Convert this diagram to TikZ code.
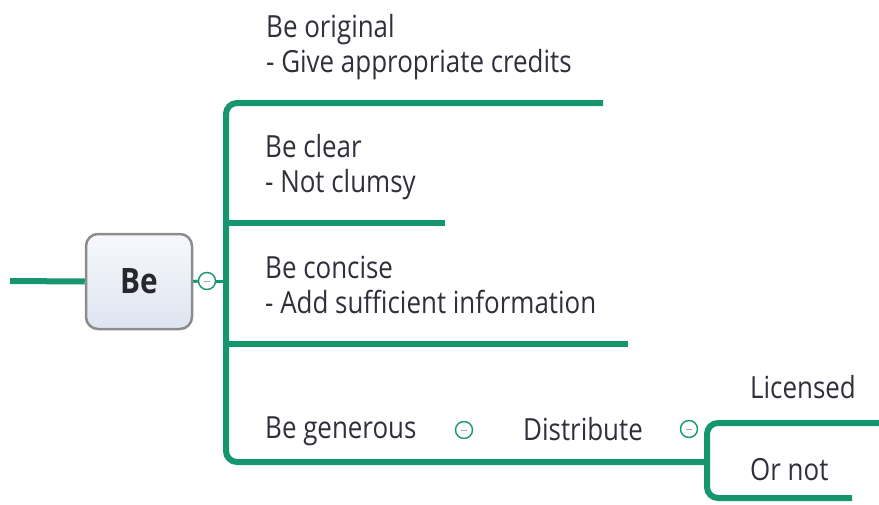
\documentclass[tikz,border=0pt]{standalone}
\usepackage{fontspec}
\setmainfont[FakeStretch=0.85]{Open Sans}
\definecolor{branch}{RGB}{22,150,110}
\definecolor{ink}{RGB}{48,48,58}
\definecolor{boxrim}{RGB}{140,140,140}
\definecolor{boxtop}{RGB}{246,248,252}
\definecolor{boxbot}{RGB}{222,229,240}
\begin{document}
\begin{tikzpicture}[x=1pt,y=-1pt,
  topic/.style={anchor=base west, inner sep=0pt, align=left, text=ink,
    font=\fontsize{30.5}{34.5}\selectfont},
  rootbox/.style={rounded corners=12pt, draw=boxrim, line width=2.5pt,
    top color=boxtop, bottom color=boxbot, minimum width=106pt,
    minimum height=95pt, text=ink!80!black, font=\fontsize{35}{38}\bfseries},
  branchline/.style={draw=branch, line width=6pt},
  toggle/.style={circle, draw=branch, line width=1.4pt, fill=white,
    minimum size=17pt, inner sep=0pt,
    path picture={\draw[gray!70, line width=1pt]
      ([xshift=-3pt]path picture bounding box.center) --
      ([xshift=3pt]path picture bounding box.center);}}
]
\useasboundingbox (0,0) rectangle (879,504);

% central topic and its incoming line
\coordinate (in) at (10,281);
\node[rootbox] (be) at (139,281.5) {Be};
\draw[branchline] (in) -- (be.west);
\node[toggle] (tbe) at (207,281) {};
\coordinate (trunk) at (226,281);
\draw[branchline, line width=3pt] (be.east) -- (tbe.west);
\draw[branchline, line width=3pt] (tbe.east) -- (trunk);

% subtopics (a two-line node sits on the baseline of its last line)
\node[topic] (orig) at (266,72) {Be original\\- Give appropriate credits};
\node[topic] (clear) at (265,192) {Be clear\\- Not clumsy};
\node[topic] (conc) at (265,313) {Be concise\\- Add sufficient information};
\node[topic] (gen) at (265,438) {Be generous};
\node[toggle] (tgen) at (464,430) {};
\node[topic] (dist) at (523,440) {Distribute};
\node[toggle] (tdist) at (689,429) {};
\node[topic] (lic) at (750,398) {Licensed};
\node[topic] (ornot) at (750,480) {Or not};

% underline ends
\coordinate (origR) at (603,103);
\coordinate (clearL) at (226,223);
\coordinate (clearR) at (445,223);
\coordinate (concL) at (226,344);
\coordinate (concR) at (628,344);
\coordinate (distR) at (707,462);
\coordinate (licR) at (879,423);
\coordinate (ornotR) at (852,498);

% trunk with the first and last branch
\draw[branchline, rounded corners=11pt]
  (origR) -- (orig.west |- origR) -- ++(-40,0) |- (distR);
\draw[branchline] (clearL) -- (clearR);
\draw[branchline] (concL) -- (concR);

% second level split
\draw[branchline, rounded corners=11pt]
  (licR) -| (distR) |- (ornotR);
\end{tikzpicture}
\end{document}
